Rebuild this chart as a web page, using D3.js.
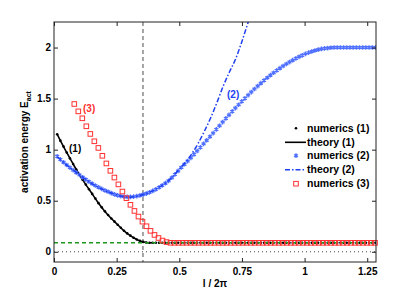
<!DOCTYPE html>
<html>
<head>
<meta charset="utf-8">
<script src="https://cdn.jsdelivr.net/npm/d3@7"></script>
<style>
  body { margin: 0; background: #fff; }
  text { font-family: "Liberation Sans", Arial, Helvetica, sans-serif; font-weight: bold; }
</style>
</head>
<body>
<svg id="chart" width="415" height="295"></svg>
<script>
// sampling grid of numerics (1) and (2): l/2pi = step * (i+1)
const numStep = 0.0127;

const num1Energy = [
  1.15, 1.088, 1.03, 0.971, 0.915, 0.86, 0.806, 0.754, 0.706, 0.658,
  0.612, 0.567, 0.521, 0.476, 0.435, 0.396, 0.36, 0.326, 0.295, 0.265,
  0.236, 0.206, 0.18, 0.158, 0.138, 0.121, 0.107, 0.097, 0.091, 0.089,
  0.088, 0.088, 0.088, 0.088, 0.088, 0.088, 0.088, 0.088, 0.088, 0.088,
  0.088, 0.088, 0.088, 0.088, 0.088, 0.088, 0.088, 0.088, 0.088, 0.088,
  0.088, 0.088, 0.088, 0.088, 0.088, 0.088, 0.088, 0.088, 0.088, 0.088,
  0.088, 0.088, 0.088, 0.088, 0.088, 0.088, 0.088, 0.088, 0.088, 0.088,
  0.088, 0.088, 0.088, 0.088, 0.088, 0.088, 0.088, 0.088, 0.088, 0.088,
  0.088, 0.088, 0.088, 0.088, 0.088, 0.088, 0.088, 0.088, 0.088, 0.088,
  0.088, 0.088, 0.088, 0.088, 0.088, 0.088, 0.088, 0.088, 0.088, 0.088,
  0.088
];

const num2Energy = [
  0.935, 0.905, 0.877, 0.85, 0.824, 0.8, 0.776, 0.753, 0.73, 0.707,
  0.686, 0.667, 0.649, 0.632, 0.616, 0.601, 0.588, 0.575, 0.563, 0.553,
  0.545, 0.54, 0.537, 0.537, 0.54, 0.545, 0.552, 0.56, 0.57, 0.582,
  0.596, 0.612, 0.63, 0.65, 0.672, 0.695, 0.725, 0.758, 0.792, 0.825,
  0.857, 0.888, 0.92, 0.953, 0.987, 1.022, 1.057, 1.092, 1.127, 1.162,
  1.198, 1.234, 1.27, 1.306, 1.34, 1.374, 1.407, 1.44, 1.472, 1.503,
  1.534, 1.564, 1.594, 1.623, 1.651, 1.678, 1.704, 1.729, 1.753, 1.776,
  1.798, 1.819, 1.839, 1.858, 1.876, 1.893, 1.909, 1.924, 1.938, 1.95,
  1.961, 1.971, 1.979, 1.986, 1.991, 1.995, 1.998, 2.0, 2.0, 2.0,
  2.0, 2.0, 2.0, 2.0, 2.0, 2.0, 2.0, 2.0, 2.0, 2.0,
  2.0
];

// numerics (3): l/2pi = num3Start + num3Step * i
const num3Start = 0.081;
const num3Step = 0.016;
const num3Energy = [
  1.447, 1.375, 1.307, 1.229, 1.154, 1.082, 1.017, 0.94, 0.865, 0.793,
  0.727, 0.66, 0.59, 0.525, 0.46, 0.4, 0.345, 0.295, 0.25, 0.205,
  0.165, 0.135, 0.11, 0.095, 0.088,
  0.088, 0.088, 0.088, 0.088, 0.088, 0.088, 0.088, 0.088, 0.088, 0.088,
  0.088, 0.088, 0.088, 0.088, 0.088, 0.088, 0.088, 0.088, 0.088, 0.088,
  0.088, 0.088, 0.088, 0.088, 0.088, 0.088, 0.088, 0.088, 0.088, 0.088,
  0.088, 0.088, 0.088, 0.088, 0.088, 0.088, 0.088, 0.088, 0.088, 0.088,
  0.088, 0.088, 0.088, 0.088, 0.088, 0.088, 0.088, 0.088, 0.088, 0.088,
  0.088
];

const theory1L = [0.013, 0.025, 0.05, 0.075, 0.1, 0.125, 0.15, 0.175, 0.2, 0.225, 0.25, 0.275, 0.3, 0.325, 0.35, 0.375, 0.4];
const theory1E = [1.15, 1.09, 0.975, 0.865, 0.76, 0.665, 0.575, 0.485, 0.405, 0.335, 0.275, 0.215, 0.165, 0.127, 0.1, 0.089, 0.088];

const theory2L = [0.013, 0.025, 0.05, 0.075, 0.1, 0.125, 0.15, 0.175, 0.2, 0.225, 0.25, 0.275, 0.3, 0.325, 0.35, 0.375, 0.4,
  0.425, 0.45, 0.475, 0.5, 0.525, 0.55, 0.575, 0.6, 0.625, 0.65, 0.675, 0.7, 0.725, 0.75, 0.775, 0.8];
const theory2E = [0.93, 0.903, 0.85, 0.802, 0.755, 0.711, 0.67, 0.635, 0.604, 0.578, 0.556, 0.541, 0.535, 0.541, 0.556, 0.577, 0.604,
  0.64, 0.682, 0.74, 0.81, 0.875, 0.96, 1.06, 1.18, 1.31, 1.46, 1.62, 1.76, 1.89, 2.06, 2.25, 2.45];

const xTicks = [0, 0.25, 0.5, 0.75, 1, 1.25];
const xTickLabels = ["0", "0.25", "0.5", "0.75", "1", "1.25"];
const yTicks = [0, 0.5, 1, 1.5, 2];
const yTickLabels = ["0", "0.5", "1", "1.5", "2"];

const baseEnergy = 0.088;   // green dashed level
const markerL = 0.355;      // grey vertical dashed line

const legendLabels = ["numerics (1)", "theory (1)", "numerics (2)", "theory (2)", "numerics (3)"];

// ---- layout ----
const svg = d3.select("#chart");
const m = { left: 54, right: 376, top: 22, bottom: 262 };

const x = d3.scaleLinear().domain([0, 1.285]).range([m.left, m.right]);
const y = d3.scaleLinear().domain([-0.1, 2.25]).range([m.bottom, m.top]);

const blueStar = "#5070ff";
const blueLine = "#1f3ff0";
const red = "#ff3030";
const green = "#1e961e";

svg.append("defs").append("clipPath").attr("id", "plotClip")
  .append("rect").attr("x", m.left).attr("y", m.top).attr("width", m.right - m.left).attr("height", m.bottom - m.top);

const plot = svg.append("g").attr("clip-path", "url(#plotClip)");

const line = d3.line().x(d => x(d[0])).y(d => y(d[1])).curve(d3.curveMonotoneX);

// vertical grey dashed line
plot.append("line")
  .attr("x1", x(markerL)).attr("x2", x(markerL))
  .attr("y1", m.top).attr("y2", m.bottom)
  .attr("stroke", "#888").attr("stroke-width", 1.5).attr("stroke-dasharray", "4,3");

// zero dotted line
plot.append("line")
  .attr("x1", x(0)).attr("x2", x(1.285))
  .attr("y1", y(0)).attr("y2", y(0))
  .attr("stroke", "#444").attr("stroke-width", 1).attr("stroke-dasharray", "1,3");

// theory (1)
plot.append("path")
  .attr("d", line(theory1L.map((l, i) => [l, theory1E[i]])))
  .attr("fill", "none").attr("stroke", "#000").attr("stroke-width", 1.6);

// numerics (1)
plot.append("g").selectAll("circle")
  .data(num1Energy)
  .enter().append("circle")
  .attr("cx", (d, i) => x(numStep * (i + 1)))
  .attr("cy", d => y(d))
  .attr("r", 1.3)
  .attr("fill", "#000");

// numerics (2) asterisks
const star = d3.symbol().type(d3.symbolAsterisk).size(15);
plot.append("g").selectAll("path")
  .data(num2Energy)
  .enter().append("path")
  .attr("d", star)
  .attr("transform", (d, i) => `translate(${x(numStep * (i + 1))},${y(d)})`)
  .attr("fill", "none").attr("stroke", blueStar).attr("stroke-width", 1.3);

// theory (2)
plot.append("path")
  .attr("d", line(theory2L.map((l, i) => [l, theory2E[i]])))
  .attr("fill", "none").attr("stroke", blueLine).attr("stroke-width", 1.5)
  .attr("stroke-dasharray", "5,2,1.5,2");

// numerics (3) squares
svg.append("g").selectAll("rect")
  .data(num3Energy)
  .enter().append("rect")
  .attr("x", (d, i) => x(num3Start + num3Step * i) - 2.3)
  .attr("y", d => y(d) - 2.3)
  .attr("width", 4.6).attr("height", 4.6)
  .attr("fill", "none").attr("stroke", red).attr("stroke-width", 1);

// green dashed base level
plot.append("line")
  .attr("x1", x(0)).attr("x2", x(1.285))
  .attr("y1", y(baseEnergy)).attr("y2", y(baseEnergy))
  .attr("stroke", green).attr("stroke-width", 1.5).attr("stroke-dasharray", "4,3");

// ---- axes (ticks inside, Matlab style) ----
const axB = svg.append("g").attr("transform", `translate(0,${m.bottom})`)
  .call(d3.axisBottom(x).tickValues(xTicks).tickFormat((d, i) => xTickLabels[i]).tickSizeInner(-4).tickSizeOuter(0).tickPadding(6));
const axT = svg.append("g").attr("transform", `translate(0,${m.top})`)
  .call(d3.axisTop(x).tickValues(xTicks).tickFormat("").tickSizeInner(-4).tickSizeOuter(0));
const axL = svg.append("g").attr("transform", `translate(${m.left},0)`)
  .call(d3.axisLeft(y).tickValues(yTicks).tickFormat((d, i) => yTickLabels[i]).tickSizeInner(-4).tickSizeOuter(0).tickPadding(3));
const axR = svg.append("g").attr("transform", `translate(${m.right},0)`)
  .call(d3.axisRight(y).tickValues(yTicks).tickFormat("").tickSizeInner(-4).tickSizeOuter(0));

[axB, axT, axL, axR].forEach(a => {
  a.select(".domain").remove();
  a.selectAll("line").attr("stroke", "#222");
  a.selectAll("text").attr("font-size", "10px").attr("fill", "#000")
    .style("font-family", "'Liberation Sans', Arial, sans-serif").style("font-weight", "bold");
});

svg.append("rect")
  .attr("x", m.left).attr("y", m.top).attr("width", m.right - m.left).attr("height", m.bottom - m.top)
  .attr("fill", "none").attr("stroke", "#222").attr("stroke-width", 1);

// axis labels
svg.append("text")
  .attr("x", (m.left + m.right) / 2).attr("y", 287)
  .attr("text-anchor", "middle").attr("font-size", "10px")
  .text("l / 2π");

const yl = svg.append("text")
  .attr("transform", `translate(28,${(m.top + m.bottom) / 2}) rotate(-90)`)
  .attr("text-anchor", "middle").attr("font-size", "10px");
yl.append("tspan").text("activation energy E");
yl.append("tspan").attr("font-size", "7px").attr("dy", 2.5).text("act");

// curve labels
svg.append("text").attr("x", 69).attr("y", 152).attr("font-size", "10px").attr("fill", "#000").text("(1)");
svg.append("text").attr("x", 227).attr("y", 98).attr("font-size", "10px").attr("fill", blueLine).text("(2)");
svg.append("text").attr("x", 83).attr("y", 112).attr("font-size", "10px").attr("fill", red).text("(3)");

// ---- legend ----
const legY = [128.3, 142.3, 155.7, 169.7, 183.7];
const legSym = 296, legText = 307;
const leg = svg.append("g");
legendLabels.forEach((t, i) => {
  leg.append("text").attr("x", legText).attr("y", legY[i] + 3.7)
    .attr("font-size", "10.5px").attr("fill", "#000").text(t);
});
leg.append("circle").attr("cx", legSym).attr("cy", legY[0]).attr("r", 1.3).attr("fill", "#000");
leg.append("line").attr("x1", 285).attr("x2", 306).attr("y1", legY[1]).attr("y2", legY[1])
  .attr("stroke", "#000").attr("stroke-width", 1.6);
leg.append("path").attr("d", star).attr("transform", `translate(${legSym},${legY[2]})`)
  .attr("fill", "none").attr("stroke", blueStar).attr("stroke-width", 1.3);
leg.append("line").attr("x1", 285).attr("x2", 306).attr("y1", legY[3]).attr("y2", legY[3])
  .attr("stroke", blueLine).attr("stroke-width", 1.5).attr("stroke-dasharray", "5,2,1.5,2");
leg.append("rect").attr("x", legSym - 2.3).attr("y", legY[4] - 2.3).attr("width", 4.6).attr("height", 4.6)
  .attr("fill", "none").attr("stroke", red).attr("stroke-width", 1);
</script>
</body>
</html>
